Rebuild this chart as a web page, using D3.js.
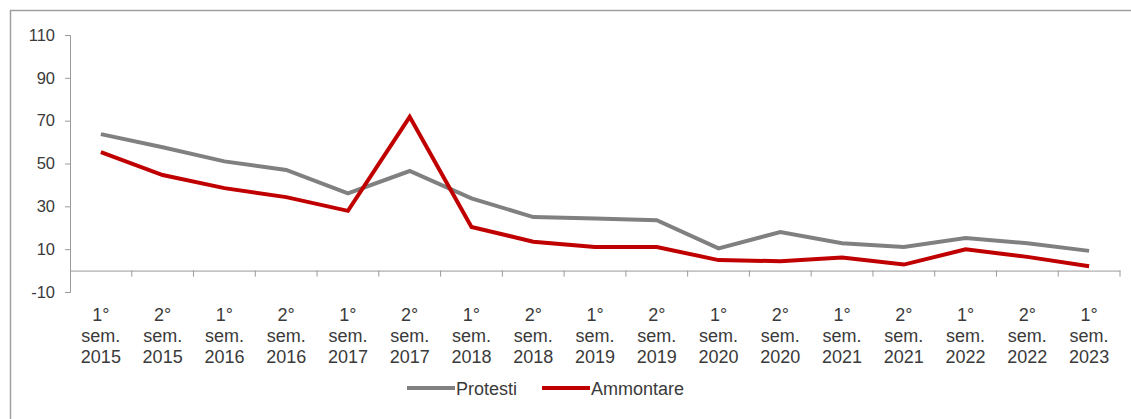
<!DOCTYPE html>
<html><head><meta charset="utf-8">
<script src="https://cdn.jsdelivr.net/npm/d3@7"></script>
<style>body{margin:0;background:#fff}svg{display:block}text{font-family:"Liberation Sans",Arial,sans-serif}</style>
</head><body><svg id="c" width="1131" height="419"></svg>
<script>
const semesters = ["1°","2°","1°","2°","1°","2°","1°","2°","1°","2°","1°","2°","1°","2°","1°","2°","1°"];
const years = ["2015","2015","2016","2016","2017","2017","2018","2018","2019","2019","2020","2020","2021","2021","2022","2022","2023"];
const protesti = [63.7,57.6,51,47,36,46.5,33.7,25,24.3,23.5,10.4,18,12.8,11,15.2,12.8,9.2];
const ammontare = [55.3,44.6,38.5,34.3,27.9,71.8,20.4,13.5,11,11,4.9,4.4,6.1,2.8,9.9,6.4,2];
const yTicks = [-10,10,30,50,70,90,110];
const seriesNames = ["Protesti","Ammontare"];
const seriesColors = ["#808080","#c00000"];

const svg = d3.select("#c");
const cats = d3.range(semesters.length);
const x = d3.scaleBand().domain(cats).range([70,1120]);
const y = d3.scaleLinear().domain([-10,110]).range([292,35]);

svg.append("rect").attr("x",10.5).attr("y",10.5).attr("width",1140).attr("height",420)
  .attr("fill","none").attr("stroke","#a0a0a0").attr("stroke-width",1.5);

// y axis
const ya = svg.append("g").attr("transform","translate(70,0)")
  .call(d3.axisLeft(y).tickValues(yTicks).tickSize(5).tickPadding(10).tickFormat(d=>String(d)));
ya.select(".domain").attr("stroke","#9a9a9a");
ya.selectAll(".tick line").attr("stroke","#9a9a9a");
ya.selectAll("text").attr("fill","#3a3a3a").style("font-size","16.5px");

// x axis at 0
const xa = svg.append("g").attr("transform",`translate(0,${y(0)})`)
  .call(d3.axisBottom(x).tickValues([]).tickSizeOuter(0));
xa.select(".domain").attr("stroke","#9a9a9a");
const bounds = cats.map(i=>x(i)).concat([x.range()[1]]);
xa.selectAll(".b").data(bounds.slice(1)).enter().append("line")
  .attr("x1",d=>d).attr("x2",d=>d).attr("y1",0).attr("y2",6).attr("stroke","#9a9a9a");

// x labels
const lab = svg.append("g");
cats.forEach(i=>{
  const cx = x(i)+x.bandwidth()/2;
  const t = lab.append("text").attr("x",cx).attr("text-anchor","middle")
    .attr("fill","#3a3a3a").style("font-size","18px");
  t.append("tspan").attr("x",cx).attr("y",321).text(semesters[i]);
  t.append("tspan").attr("x",cx).attr("y",342).text("sem.");
  t.append("tspan").attr("x",cx).attr("y",363).text(years[i]);
});

const line = d3.line().x((d,i)=>x(i)+x.bandwidth()/2).y(d=>y(d));
[protesti,ammontare].forEach((s,k)=>{
  svg.append("path").datum(s).attr("d",line).attr("fill","none")
    .attr("stroke",seriesColors[k]).attr("stroke-width",4).attr("stroke-linejoin","miter");
});

// legend
const legX = [407,542];
seriesNames.forEach((n,k)=>{
  svg.append("line").attr("x1",legX[k]).attr("x2",legX[k]+48).attr("y1",388).attr("y2",388)
    .attr("stroke",seriesColors[k]).attr("stroke-width",4);
  svg.append("text").attr("x",legX[k]+49).attr("y",394.5).attr("fill","#3a3a3a")
    .style("font-size","18px").text(n);
});
</script></body></html>
